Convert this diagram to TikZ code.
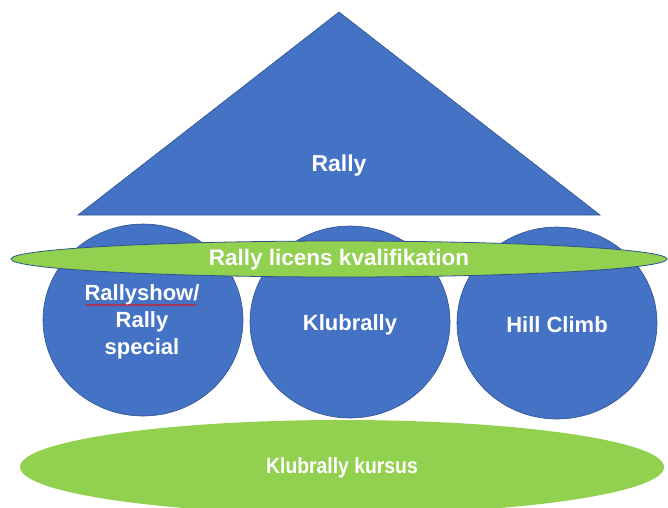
\documentclass[tikz,border=0pt]{standalone}
\usepackage{fontspec}
\setmainfont{Liberation Sans}
\usetikzlibrary{shapes.geometric,decorations.pathmorphing}
\definecolor{blueF}{HTML}{4472C4}
\definecolor{blueD}{HTML}{2F528F}
\definecolor{greenF}{HTML}{92D050}
\tikzset{
  shapeblue/.style={fill=blueF, draw=blueD, line width=0.6pt},
  shapegreen/.style={fill=greenF, draw=blueD, line width=0.8pt},
  lbl/.style={text=white, font=\bfseries\fontsize{22}{27}\selectfont, align=center, inner sep=0pt},
}
\begin{document}
\begin{tikzpicture}[x=1pt,y=-1pt]
\useasboundingbox (0,0) rectangle (668,507);
\begin{scope}
\clip (0,0) rectangle (668,507);
% triangle
\fill[shapeblue] (339,12) -- (600,215) -- (78,215) -- cycle;
% circles
\fill[shapeblue] (143,320) ellipse [x radius=100, y radius=96];
\fill[shapeblue] (350,322) ellipse [x radius=100, y radius=96];
\fill[shapeblue] (557,323) ellipse [x radius=100, y radius=96];
% top ellipse
\fill[shapegreen] (339,259) ellipse [x radius=328, y radius=18];
% bottom ellipse
\fill[fill=greenF] (342,467) ellipse [x radius=322, y radius=47];
\end{scope}
% labels
\node[lbl, font=\bfseries\fontsize{23}{27}\selectfont] (rally) at (339,166) {Rally};
\node[lbl, font=\bfseries\fontsize{22.5}{27}\selectfont] (licens) at (339,260) {Rally licens kvalifikation};
\node[lbl] (show) at (142,322) {Rallyshow/\\Rally\\special};
\node[lbl] (klub) at (350,325) {Klubrally};
\node[lbl] (hill) at (557,325) {Hill Climb};
\node[lbl, xscale=0.88] (kursus) at (342,468) {Klubrally kursus};
% spell-check underline
\coordinate (ua) at (86,305);
\coordinate (ub) at (196,305);
\draw[red, line width=0.6pt, decorate, decoration={snake, segment length=3pt, amplitude=0.8pt}] (ua) -- (ub);
\end{tikzpicture}
\end{document}
